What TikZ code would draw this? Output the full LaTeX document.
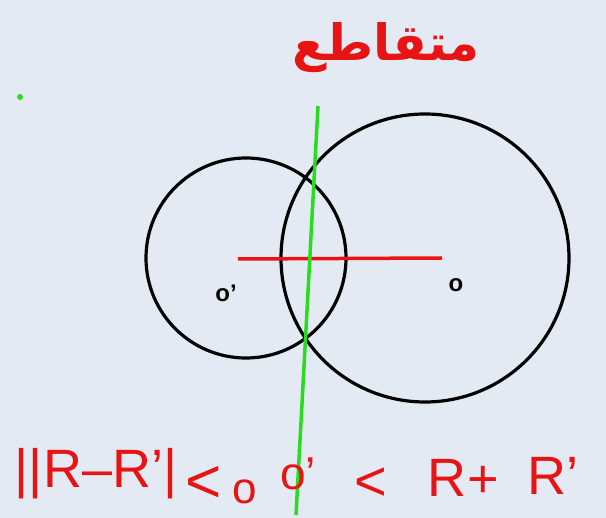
\documentclass[tikz,border=0pt]{standalone}
\usepackage{fontspec}
\setmainfont{Liberation Sans}
\newfontfamily\arabicfont[Script=Arabic]{DejaVu Sans}
\TeXXeTstate=1
\definecolor{bgc}{RGB}{228,234,243}
\definecolor{pen}{RGB}{232,20,20}
\definecolor{grn}{RGB}{40,220,30}
\begin{document}
\begin{tikzpicture}[x=1pt,y=-1pt,
  circ/.style={draw=black,line width=3.2pt},
  redtxt/.style={text=pen,inner sep=0pt,font=\fontsize{54}{58}\selectfont},
  lbl/.style={text=black,inner sep=0pt,font=\bfseries\fontsize{24}{26}\selectfont}]
\fill[bgc] (0,0) rectangle (606,518);
\useasboundingbox (0,0) rectangle (606,518);
% circles
\node[circle,circ,minimum size=200pt,inner sep=0pt] (c1) at (246,258) {};
\node[circle,circ,minimum size=288pt,inner sep=0pt] (c2) at (425,258) {};
% centres
\coordinate (o1) at (238,259);
\coordinate (o2) at (442,258);
\draw[pen,line width=3.5pt] (o1) -- (o2);
% green line
\coordinate (gt) at (318,106);
\coordinate (gb) at (296,515);
\draw[grn,line width=3.5pt] (gt) -- (gb);
% green dot
\fill[grn] (20,97) circle (3pt);
% labels
\node[lbl] (lo1) at (226,293) {o'};
\node[lbl] (lo2) at (456,285) {o};
% Arabic title
\node[text=pen,inner sep=0pt,font=\arabicfont\bfseries\fontsize{50}{54}\selectfont] (title) at (386,48) {\beginR متقاطع\endR};
% bottom relation
\node[redtxt] (r1) at (96,474) {||R–R'|};
\node[redtxt,font=\fontsize{62}{62}\selectfont] (r2) at (204,484) {<};
\node[redtxt,font=\fontsize{44}{48}\selectfont] (r3) at (245,492) {o};
\node[redtxt,font=\fontsize{46}{50}\selectfont] (r4) at (298,474) {o'};
\node[redtxt,font=\fontsize{56}{56}\selectfont] (r5) at (371,484) {<};
\node[redtxt] (r6) at (447,478) {R};
\node[redtxt] (r7) at (483,482) {+};
\node[redtxt] (r8) at (553,476) {R'};
\end{tikzpicture}
\end{document}
